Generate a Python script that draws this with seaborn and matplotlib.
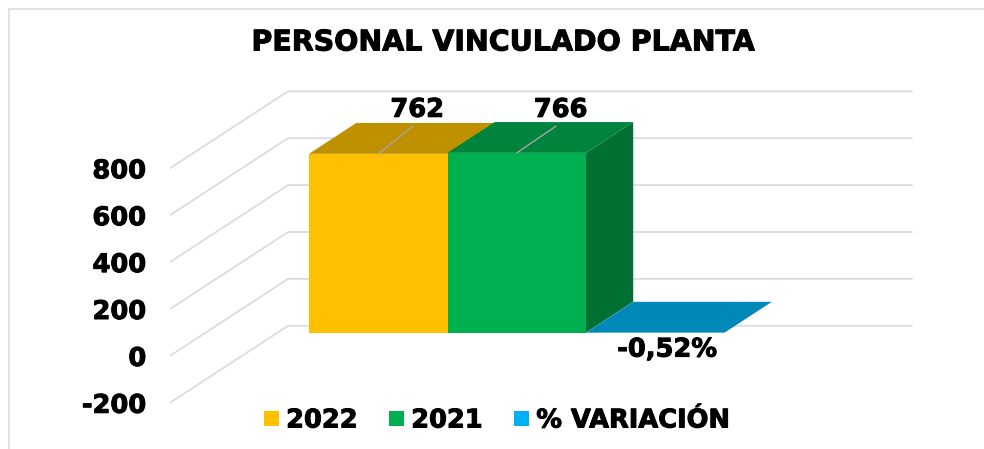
import matplotlib
matplotlib.use("Agg")
import matplotlib.patheffects as pe
import matplotlib.pyplot as plt
import pandas as pd
import seaborn as sns

# Datos del grafico
categorias = ["2022", "2021", "% VARIACIÓN"]
valores = [762, 766, -0.52]
etiquetas = ["762", "766", "-0,52%"]
ticks_y = [-200, 0, 200, 400, 600, 800]

colores_frente = ["#FFC000", "#00B050", "#00B0F0"]
colores_arriba = ["#BF9000", "#00843D", "#0088B8"]
colores_lado = ["#8F6C00", "#006F32", "#006A90"]

# Escala: un grafico 3D falso, en pixeles de la imagen
PX_X = 138.5  # ancho de una categoria
PX_Y = 0.2345  # pixeles por unidad de valor
X_BAR = 309
Y_CERO = 332.5
DX = 118 / PX_X  # desplazamiento de la profundidad completa
DY = 77 / PX_Y
PROF_BARRA = 0.40
PROF_FONDO = 0.696
PROF_FRENTE = -0.304

TAM = 18.5
grueso = [pe.withStroke(linewidth=0.7, foreground="black")]

# Area de ejes en pixeles
izq, der, arriba, abajo = 170, 930, 80, 412

sns.set_theme(style="white")
plt.rcParams["font.family"] = ["DejaVu Sans"]
plt.rcParams["font.weight"] = "bold"

df = pd.DataFrame({"categoria": categorias, "valor": valores})

fig = plt.figure(figsize=(9.84, 4.49), dpi=100)
ax = fig.add_axes([izq / 984, 1 - abajo / 449, (der - izq) / 984, (abajo - arriba) / 449])

sns.barplot(data=df, x="categoria", y="valor", hue="categoria", palette=colores_frente,
            width=1, saturation=1, errorbar=None, legend=True, ax=ax, linewidth=0)
for p in ax.patches:
    p.set_zorder(4)

ax.set_xlim((izq - X_BAR) / PX_X - 0.5, (der - X_BAR) / PX_X - 0.5)
ax.set_ylim((Y_CERO - abajo) / PX_Y, (Y_CERO - arriba) / PX_Y)


def proyectar(x, v, d):
    return x + d * DX, v + d * DY


# Lineas de la cuadricula: del frente al fondo y luego a la derecha
x_fondo_izq = (288 - X_BAR) / PX_X - 0.5
x_fondo_der = (912 - X_BAR) / PX_X - 0.5
x_base = x_fondo_izq - PROF_FONDO * DX
for t in ticks_y:
    x0, y0 = proyectar(x_base, t, PROF_FRENTE)
    x1, y1 = proyectar(x_base, t, PROF_FONDO)
    x2, y2 = x_fondo_der, y1
    ax.plot([x0, x1, x2], [y0, y1, y2], color="#DCDCDC", lw=1.3, zorder=1,
            solid_joinstyle="miter")

# Caras superior y lateral de cada barra
for i, v in enumerate(valores):
    l, r = i - 0.5, i + 0.5
    arriba_cara = [proyectar(l, v, 0), proyectar(r, v, 0),
                   proyectar(r, v, PROF_BARRA), proyectar(l, v, PROF_BARRA)]
    lado_cara = [proyectar(r, 0, 0), proyectar(r, v, 0),
                 proyectar(r, v, PROF_BARRA), proyectar(r, 0, PROF_BARRA)]
    # el lado queda oculto si la barra siguiente es mas alta
    if i == len(valores) - 1 or valores[i + 1] < v:
        ax.fill(*zip(*lado_cara), color=colores_lado[i], lw=0, zorder=2)
    ax.fill(*zip(*arriba_cara), color=colores_arriba[i], lw=0, zorder=3)

# Etiquetas de datos con linea guia
desplaz = [(39, 31), (44, 30), (12, -17)]
for i, v in enumerate(valores):
    dx_pt, dy_pt = desplaz[i]
    if v > 0:
        ax.annotate(etiquetas[i], xy=(i, v), xytext=(dx_pt * 0.72, dy_pt * 0.72),
                    textcoords="offset points", ha="center", va="bottom",
                    fontsize=TAM, fontweight="bold", color="black", zorder=6,
                    path_effects=grueso,
                    arrowprops=dict(arrowstyle="-", color="#A6A6A6", lw=1, shrinkA=0, shrinkB=0,
                                    relpos=(0.5, 0), path_effects=[]))
    else:
        ax.annotate(etiquetas[i], xy=(i, v), xytext=(dx_pt * 0.72, dy_pt * 0.72),
                    textcoords="offset points", ha="center", va="center",
                    fontsize=TAM, fontweight="bold", color="black", zorder=6,
                    path_effects=grueso)

# Eje Y: las etiquetas van en el plano del frente
ax.set_yticks([proyectar(x_base, t, PROF_FRENTE)[1] for t in ticks_y])
ax.set_yticklabels([str(t) for t in ticks_y], fontsize=TAM, fontweight="bold", color="black",
                   path_effects=grueso)
ax.tick_params(axis="y", length=0, pad=17)
ax.set_xticks([])
ax.set_xlabel("")
ax.set_ylabel("")
sns.despine(ax=ax, left=True, bottom=True)

fig.text(503 / 984, 1 - 42.5 / 449, "PERSONAL VINCULADO PLANTA", ha="center", va="center",
         fontsize=20.5, fontweight="bold", color="black", path_effects=grueso)

leg = ax.legend(title=None, loc="center",
                bbox_to_anchor=((497 - izq) / (der - izq), (abajo - 420.5) / (abajo - arriba)),
                ncol=3, frameon=False, fontsize=TAM, handlelength=0.6, handleheight=0.52,
                handletextpad=0.28, columnspacing=1.2, borderpad=0, borderaxespad=0,
                labelcolor="black")
for txt in leg.get_texts():
    txt.set_path_effects(grueso)

# Borde izquierdo y superior del recuadro
fig.add_artist(plt.Line2D([9 / 984, 9 / 984], [0, 1 - 9 / 449], color="#DEDEDE", lw=1.3))
fig.add_artist(plt.Line2D([9 / 984, 1], [1 - 9 / 449, 1 - 9 / 449], color="#DEDEDE", lw=1.3))

plt.savefig("out.png", dpi=100)
